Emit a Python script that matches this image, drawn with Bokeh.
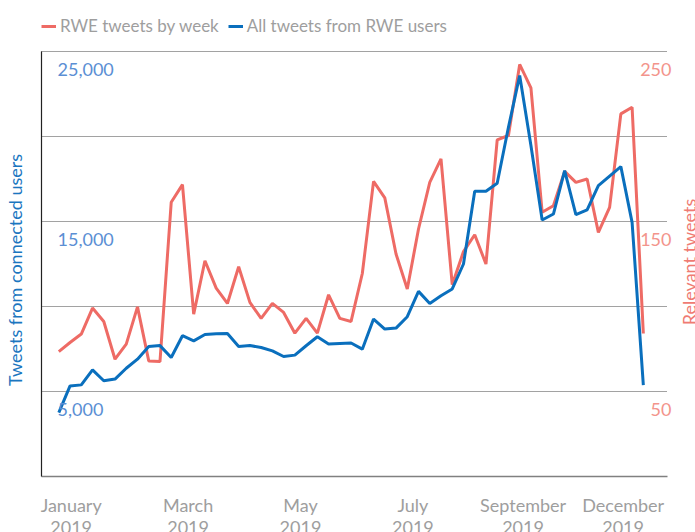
import math
from bokeh.plotting import figure
from bokeh.models import Range1d, Label, Legend, LegendItem, FixedTicker
from bokeh.embed import file_html
from bokeh.resources import INLINE

# ---- data ----
weeks = list(range(53))
all_tweets = [3760, 5330, 5390, 6270, 5630, 5730, 6370, 6900, 7650, 7700,
              7000, 8280, 7980, 8350, 8390, 8410, 7650, 7700, 7590, 7390,
              7060, 7140, 7690, 8220, 7790, 7820, 7850, 7490, 9260, 8670,
              8730, 9400, 10890, 10180, 10630, 11030, 12500, 16780, 16780, 17250,
              20540, 23590, 19470, 15090, 15440, 17990, 15400, 15680, 17110, 17670,
              18230, 14950, 5370]
rwe_tweets = [73.5, 78.8, 83.8, 99.1, 91.2, 69.0, 77.9, 99.8, 68.0, 67.6,
              161.3, 171.7, 95.5, 126.9, 110.8, 101.8, 123.4, 102.4, 93.0, 101.8,
              96.5, 84.3, 93.0, 84.3, 106.9, 93.0, 91.2, 119.4, 173.6, 163.9,
              130.9, 110.3, 145.6, 173.0, 186.8, 112.8, 132.3, 142.2, 125.0, 198.0,
              200.6, 242.4, 228.6, 155.4, 159.3, 179.5, 173.0, 175.0, 143.6, 158.3,
              213.3, 217.2, 84.1]
month_ticks = [1.1, 11.5, 21.5, 31.5, 41.3, 50.2]
month_labels = ["January\n2019", "March\n2019", "May\n2019", "July\n2019",
                "September\n2019", "December\n2019"]
grid_values = [5000, 10000, 15000, 20000, 25000]
left_ticks = [5000, 15000, 25000]
left_tick_labels = ["5,000", "15,000", "25,000"]
right_ticks = [50, 150, 250]
right_tick_labels = ["50", "150", "250"]

# ---- style / layout ----
FONT = "Lato"
RED = "#ee6b65"
BLUE = "#0a6fbd"
LBLUE = "#5b8fd4"
LRED = "#f3948c"
GREY = "#9e9e9e"
W, H = 695, 532
# plot area in pixels: left 41, right 667, top 51, bottom 476
X0, X1 = -1.54, 54.15          # x data at left / right edge of plot area
PX = (X1 - X0) / (667 - 41)    # data per pixel (x)
PY = 25000 / (476 - 51)        # data per pixel (y, left scale)
YMAX = 25000

p = figure(width=W, height=H, output_backend="svg", toolbar_location=None,
           x_range=Range1d(X0 - 41 * PX, X1 + (W - 667) * PX),
           y_range=Range1d(-(H - 476) * PY, YMAX + 51 * PY),
           min_border=0)
p.title.visible = False
p.outline_line_color = None
p.extra_y_ranges = {"right": Range1d(-(H - 476) * PY / 100, (YMAX + 51 * PY) / 100)}
p.xgrid.visible = False
p.ygrid.visible = False

# dotted grid lines, limited to the plot area
p.segment(x0=[X0] * len(grid_values), y0=grid_values,
          x1=[X1] * len(grid_values), y1=grid_values,
          line_color="#444444", line_dash="1 1", line_width=1)

# x axis (drawn at y = 0) with month labels
xa = p.xaxis[0]
xa.fixed_location = 0
xa.bounds = (X0, X1)
xa.ticker = FixedTicker(ticks=month_ticks)
xa.major_label_overrides = {t: l for t, l in zip(month_ticks, month_labels)}
xa.major_tick_line_color = None
xa.minor_tick_line_color = None
xa.major_tick_out = 0
xa.major_tick_in = 0
xa.major_label_standoff = 17
xa.major_label_text_font = FONT
xa.major_label_text_font_size = "18px"
xa.major_label_text_line_height = 1.0
xa.major_label_text_color = GREY
xa.axis_line_color = "#808080"
xa.axis_line_width = 1.5

# left axis line only
ya = p.yaxis[0]
ya.fixed_location = X0
ya.bounds = (0, YMAX)
ya.ticker = FixedTicker(ticks=[])
ya.major_tick_line_color = None
ya.minor_tick_line_color = None
ya.axis_line_color = "#222222"
ya.axis_line_width = 1.2

r_red = p.line(weeks, rwe_tweets, y_range_name="right", line_color=RED, line_width=3)
r_blue = p.line(weeks, all_tweets, line_color=BLUE, line_width=3)

legend = Legend(items=[LegendItem(label="RWE tweets by week", renderers=[r_red]),
                       LegendItem(label="All tweets from RWE users", renderers=[r_blue])],
                location=(41, H - 36), orientation="horizontal",
                padding=0, margin=0, spacing=9, label_standoff=4,
                glyph_width=15, glyph_height=20, label_height=20,
                border_line_color=None, background_fill_alpha=0,
                label_text_font=FONT, label_text_font_size="17px",
                label_text_color=GREY)
p.add_layout(legend, "center")

# left tick labels (inside plot)
for v, t in zip(left_ticks, left_tick_labels):
    p.add_layout(Label(x=X0, y=v, x_offset=16, y_offset=-18, text=t,
                       text_align="left", text_baseline="middle",
                       text_font=FONT, text_font_size="18px", text_color=LBLUE))
# right tick labels (inside plot)
for v, t in zip(right_ticks, right_tick_labels):
    p.add_layout(Label(x=X1, y=v, y_range_name="right", x_offset=4, y_offset=-18,
                       text=t, text_align="right", text_baseline="middle",
                       text_font=FONT, text_font_size="18px", text_color=LRED))

# axis titles
p.add_layout(Label(x=X0, y=YMAX / 2, x_offset=-27, y_offset=-6,
                   text="Tweets from connected users", angle=math.pi / 2,
                   text_align="center", text_baseline="middle", text_font=FONT,
                   text_font_size="18px", text_color="#1b76bf"))
p.add_layout(Label(x=X1, y=YMAX / 2, x_offset=21, y_offset=2,
                   text="Relevant tweets", angle=math.pi / 2,
                   text_align="center", text_baseline="middle", text_font=FONT,
                   text_font_size="18px", text_color="#ef7b73"))

open("out.html", "w").write(file_html(p, INLINE))
